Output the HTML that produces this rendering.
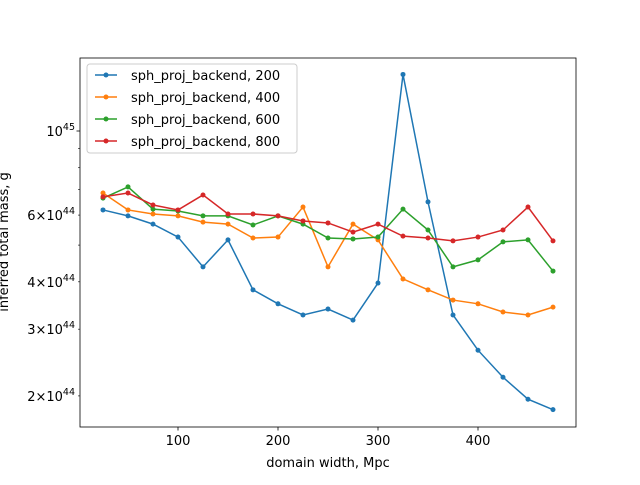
<!DOCTYPE html>
<html><head><meta charset="utf-8"><style>
body{margin:0;background:#fff;}
svg{font-family:"DejaVu Sans","Liberation Sans",sans-serif;}
</style></head><body>
<svg id="chart" width="640" height="480" viewBox="0 0 640 480">
<rect x="0" y="0" width="640" height="480" fill="#fff"/>
<g id="marks"></g>
<g id="axes"></g>
</svg>
<script>
const xs=[25,50,75,100,125,150,175,200,225,250,275,300,325,350,375,400,425,450,475];
const s200=[6.19e44,5.97e44,5.68e44,5.25e44,4.38e44,5.16e44,3.81e44,3.50e44,3.27e44,3.39e44,3.17e44,3.97e44,1.41e45,6.50e44,3.27e44,2.64e44,2.24e44,1.96e44,1.84e44];
const s400=[6.86e44,6.19e44,6.04e44,5.97e44,5.75e44,5.68e44,5.22e44,5.25e44,6.30e44,4.38e44,5.68e44,5.16e44,4.07e44,3.81e44,3.58e44,3.50e44,3.33e44,3.27e44,3.43e44];
const s600=[6.65e44,7.12e44,6.22e44,6.15e44,5.97e44,5.97e44,5.65e44,5.97e44,5.68e44,5.22e44,5.19e44,5.25e44,6.22e44,5.48e44,4.38e44,4.57e44,5.10e44,5.16e44,4.27e44];
const s800=[6.70e44,6.86e44,6.38e44,6.19e44,6.78e44,6.04e44,6.04e44,5.97e44,5.79e44,5.72e44,5.41e44,5.68e44,5.28e44,5.22e44,5.13e44,5.25e44,5.48e44,6.30e44,5.13e44];
const seriesNames=["sph_proj_backend, 200","sph_proj_backend, 400","sph_proj_backend, 600","sph_proj_backend, 800"];
const colors=["#1f77b4","#ff7f0e","#2ca02c","#d62728"];
const xTicks=[100,200,300,400];
const yMinorTicks=[2e44,3e44,4e44,5e44,6e44,7e44,8e44,9e44];
const yMinorLabels={2:"2",3:"3",4:"4",6:"6"};

const NS="http://www.w3.org/2000/svg";
const L=80,R=576,T=58,B=427;
const X=v=>78+v;
const Y=v=>131+(45-Math.log10(v))*379;
function mk(tag,attrs,parent){const e=document.createElementNS(NS,tag);for(const k in attrs)e.setAttribute(k,attrs[k]);parent.appendChild(e);return e;}
const marks=document.getElementById('marks'), axes=document.getElementById('axes');
const all=[s200,s400,s600,s800];
all.forEach((s,i)=>{
  const g=mk('g',{},marks);
  
  
  const pl=mk('polyline',{points:s.map((v,j)=>X(xs[j])+','+Y(v)).join(' '),fill:'none',stroke:colors[i],'stroke-width':1.5},g);
  
  
  s.forEach((v,j)=>{const c=mk('circle',{cx:X(xs[j]),cy:Y(v),r:2.5,fill:colors[i]},g);
    
    });
});
const frame=mk('rect',{x:L,y:T,width:R-L,height:B-T,fill:'none',stroke:'#000','stroke-width':0.8},axes);


xTicks.forEach(t=>{mk('line',{x1:X(t),x2:X(t),y1:B,y2:B+3.5,stroke:'#000','stroke-width':0.8},axes);
  const tx=mk('text',{x:X(t),y:B+18,'font-size':13,'text-anchor':'middle'},axes);tx.textContent=t;
  
  });
yMinorTicks.forEach(t=>{const y=Y(t);mk('line',{x1:L,x2:L-2,y1:y,y2:y,stroke:'#000','stroke-width':0.6},axes);
  const m=Math.round(t/1e44);
  if(yMinorLabels[m]){const tx=mk('text',{x:L-5,y:y+5,'font-size':13,'text-anchor':'end'},axes);
    tx.innerHTML=yMinorLabels[m]+'\u00d710<tspan dy="-6" font-size="9.5">44</tspan>';
    
    }});
{const y=Y(1e45);mk('line',{x1:L,x2:L-3.5,y1:y,y2:y,stroke:'#000','stroke-width':0.8},axes);
 const tx=mk('text',{x:L-5,y:y+5,'font-size':13,'text-anchor':'end'},axes);
 tx.innerHTML='10<tspan dy="-6" font-size="9.5">45</tspan>';
 
 }
const xl=mk('text',{x:328,y:467,'font-size':13,'text-anchor':'middle'},axes);xl.textContent='domain width, Mpc';


const yl=mk('text',{x:0,y:0,'font-size':13,'text-anchor':'middle',transform:'translate(8,242) rotate(-90)'},axes);yl.textContent='inferred total mass, g';


const lg=mk('g',{},axes);


mk('rect',{x:87,y:64,width:210,height:89,rx:3,fill:'#fff','fill-opacity':0.8,stroke:'#ccc'},lg);
seriesNames.forEach((n,i)=>{const y=75+i*22;
  const e=mk('g',{},lg);
  
  
  mk('line',{x1:95,x2:117,y1:y,y2:y,stroke:colors[i],'stroke-width':1.5},e);
  mk('circle',{cx:106,cy:y,r:2.5,fill:colors[i]},e);
  const t=mk('text',{x:131,y:y+5,'font-size':13},e);t.textContent=n;});
</script>
</body></html>
